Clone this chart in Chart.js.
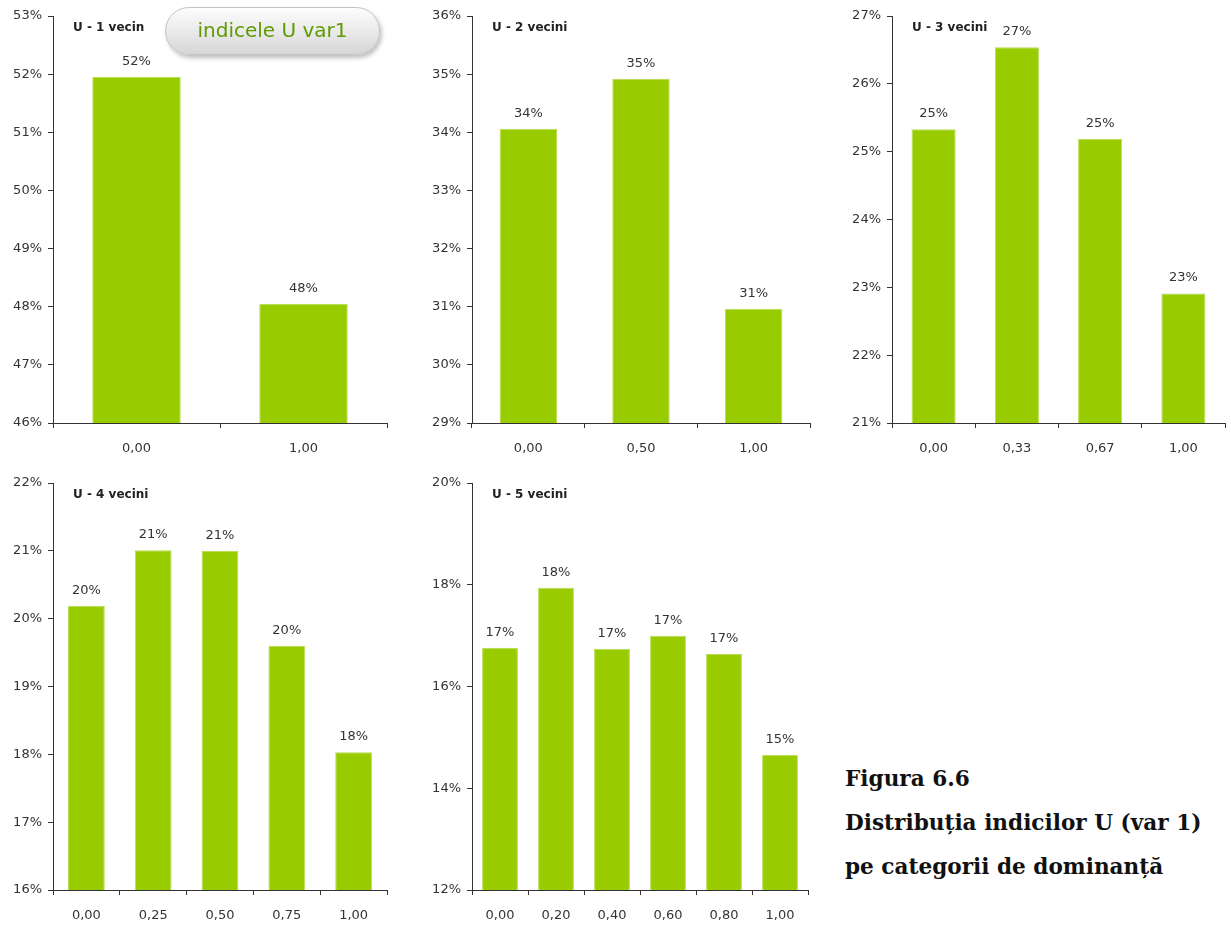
<!DOCTYPE html>
<html>
<head>
<meta charset="utf-8">
<script src="https://cdn.jsdelivr.net/npm/chart.js@4.4.0/dist/chart.umd.min.js"></script>
<style>
  body { margin: 0; background: #fff; width: 1231px; height: 926px; position: relative; overflow: hidden; }
  canvas { position: absolute; }
  .pill {
    position: absolute; left: 165px; top: 7px; width: 213px; height: 46px;
    border-radius: 24px; border: 1px solid #c4c4c4;
    background: linear-gradient(#fdfdfd, #ececec 45%, #d6d6d6);
    box-shadow: 2px 3px 4px rgba(0,0,0,0.25);
    color: #5f9a00; font: 20px "DejaVu Sans"; text-align: center; line-height: 44px;
    z-index: 2;
  }
  .caption {
    position: absolute; left: 845px; top: 757px;
    font: bold 21.6px "DejaVu Serif"; line-height: 44px; color: #111;
  }
</style>
</head>
<body>
<canvas id="c1" width="400" height="459" style="left:0;top:0"></canvas>
<canvas id="c2" width="400" height="459" style="left:419px;top:0"></canvas>
<canvas id="c3" width="392" height="459" style="left:839px;top:0"></canvas>
<canvas id="c4" width="400" height="459" style="left:0;top:467px"></canvas>
<canvas id="c5" width="400" height="459" style="left:419px;top:467px"></canvas>
<div class="pill">indicele U var1</div>
<div class="caption">Figura 6.6<br>Distribuția indicilor U (var 1)<br>pe categorii de dominanță</div>
<script>
// categories and values (percent) for each panel
const cats1 = ['0,00', '1,00'];
const vals1 = [51.95, 48.05];
const cats2 = ['0,00', '0,50', '1,00'];
const vals2 = [34.06, 34.92, 30.96];
const cats3 = ['0,00', '0,33', '0,67', '1,00'];
const vals3 = [25.33, 26.54, 25.19, 22.91];
const cats4 = ['0,00', '0,25', '0,50', '0,75', '1,00'];
const vals4 = [20.19, 21.01, 21.0, 19.6, 18.03];
const cats5 = ['0,00', '0,20', '0,40', '0,60', '0,80', '1,00'];
const vals5 = [16.76, 17.94, 16.74, 17.0, 16.64, 14.66];

const axisColor = '#333';
const tickFont = { family: 'DejaVu Sans', size: 13 };

// value labels on top of bars + small panel title
const extras = {
  id: 'extras',
  afterDatasetsDraw(chart, args, opts) {
    const ctx = chart.ctx;
    ctx.save();
    ctx.font = '13px "DejaVu Sans"';
    ctx.fillStyle = axisColor;
    ctx.textAlign = 'center';
    ctx.textBaseline = 'bottom';
    const data = chart.data.datasets[0].data;
    chart.getDatasetMeta(0).data.forEach((bar, i) => {
      ctx.fillText(Math.round(data[i]) + '%', bar.x, bar.y - 9);
    });
    ctx.font = 'bold 12px "DejaVu Sans"';
    ctx.fillStyle = '#222';
    ctx.textAlign = 'left';
    ctx.textBaseline = 'middle';
    ctx.fillText(opts.title, chart.chartArea.left + 20, chart.chartArea.top + 12);
    ctx.restore();
  }
};

function makeChart(id, labels, values, min, max, step, title, barPct, padRight) {
  new Chart(document.getElementById(id), {
    type: 'bar',
    data: {
      labels: labels,
      datasets: [{
        data: values,
        backgroundColor: '#99cc00',
        borderColor: '#b9dc55',
        borderWidth: 1,
        barPercentage: barPct,
        categoryPercentage: 1
      }]
    },
    options: {
      responsive: false,
      animation: false,
      layout: { padding: { top: 16, right: padRight, left: 0, bottom: 0 } },
      plugins: { legend: { display: false }, tooltip: { enabled: false }, extras: { title: title } },
      scales: {
        x: {
          grid: { drawOnChartArea: false, tickLength: 5, color: axisColor, offset: true },
          border: { color: axisColor },
          ticks: { color: axisColor, font: tickFont, padding: 13 },
          afterFit(s) { s.height = 36; }
        },
        y: {
          min: min, max: max,
          grid: { drawOnChartArea: false, tickLength: 5, color: axisColor },
          border: { color: axisColor },
          ticks: { stepSize: step, color: axisColor, font: tickFont, padding: 6,
                   callback: v => v + '%' },
          afterFit(s) { s.width = 53; }
        }
      }
    },
    plugins: [extras]
  });
}

makeChart('c1', cats1, vals1, 46, 53, 1, 'U - 1 vecin', 0.53, 13);
makeChart('c2', cats2, vals2, 29, 36, 1, 'U - 2 vecini', 0.51, 9);
makeChart('c3', cats3, vals3, 21, 27, 1, 'U - 3 vecini', 0.53, 6);
makeChart('c4', cats4, vals4, 16, 22, 1, 'U - 4 vecini', 0.55, 13);
makeChart('c5', cats5, vals5, 12, 20, 2, 'U - 5 vecini', 0.64, 11);
</script>
</body>
</html>
